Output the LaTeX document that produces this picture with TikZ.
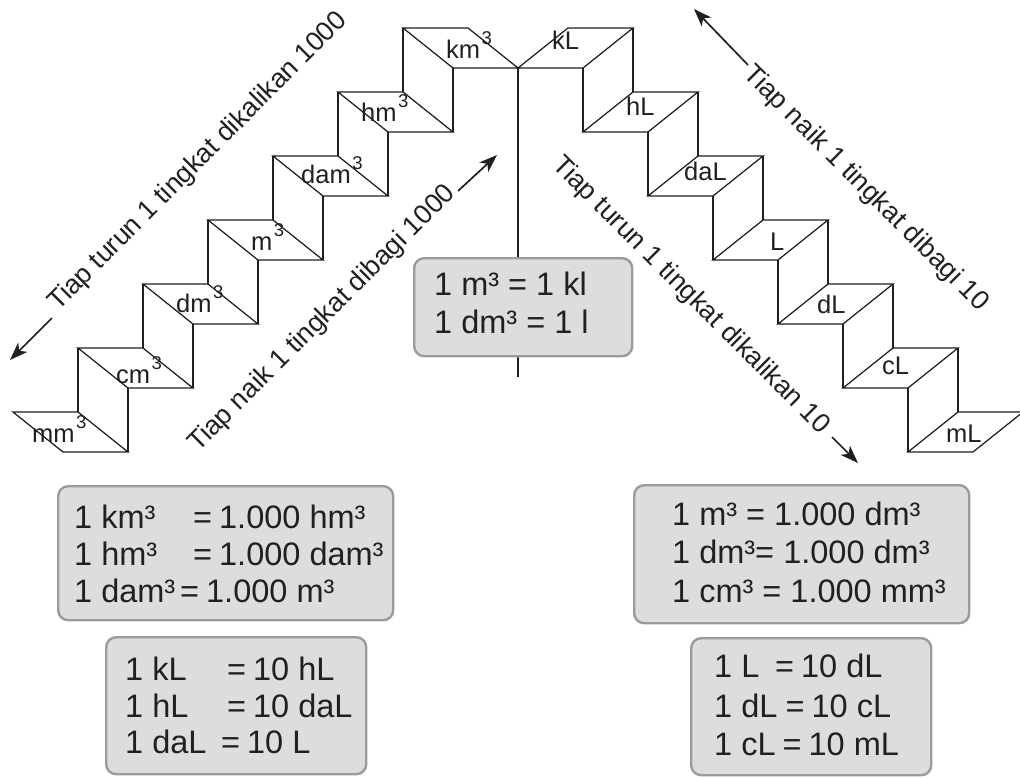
\documentclass[tikz,border=0pt]{standalone}
\usepackage{fontspec}
\setmainfont{Liberation Sans}
\usetikzlibrary{arrows.meta,calc}
\definecolor{ink}{HTML}{231F20}
\definecolor{boxfill}{HTML}{DCDDDF}
\definecolor{boxline}{HTML}{9B9B9B}
\tikzset{
  stair/.style={line width=1.25pt, draw=ink, line join=miter},
  lbl/.style={anchor=base west, inner sep=0pt, font=\fontsize{25.5}{25.5}\selectfont, text=ink},
  slant/.style={anchor=base west, inner sep=0pt, font=\fontsize{27}{27}\selectfont, text=ink},
  arr/.style={line width=1.7pt, draw=ink, -{Stealth[length=18pt,width=13pt,inset=5pt]}},
  infobox/.style={draw=boxline, fill=boxfill, line width=2.4pt, rounded corners=10pt, anchor=north west, inner sep=0pt},
  boxtxt/.style={anchor=base west, inner sep=0pt, font=\fontsize{32.5}{32.5}\selectfont, text=ink},
}
\newcommand{\cubelbl}[1]{#1\kern1.5pt\raisebox{14pt}{\fontsize{18.5}{18.5}\selectfont 3}}
\newcommand{\eqline}[3]{\makebox[#1pt][l]{#2}=\hspace{7pt}#3}
\begin{document}
\begin{tikzpicture}[x=1pt,y=-1pt]
\useasboundingbox (0,0) rectangle (1020,777);
% centre line
\coordinate (ctop) at (518,68);
\coordinate (cbot) at (518,377);
\draw[stair] (ctop) -- (cbot);
% left staircase
\foreach \k in {0,...,6}{
  \coordinate (L\k) at ({13+65*\k},{412-64*\k});
  \draw[stair] (L\k) -- ++(65,0) -- ++(50,40) -- ++(-65,0) -- cycle;
}
\foreach \k in {1,...,6}{
  \draw[stair] (L\k) -- ++(0,64);
  \draw[stair] ($(L\k)+(50,40)$) -- ++(0,64);
}
% right staircase
\foreach \k in {0,...,6}{
  \coordinate (R\k) at ({1023-65*\k},{412-64*\k});
  \draw[stair] (R\k) -- ++(-65,0) -- ++(-50,40) -- ++(65,0) -- cycle;
}
\foreach \k in {1,...,6}{
  \draw[stair] (R\k) -- ++(0,64);
  \draw[stair] ($(R\k)+(-50,40)$) -- ++(0,64);
}
% step labels
\node[lbl] (km) at (446,58) {\cubelbl{km}};
\node[lbl] (hm) at (361,121) {\cubelbl{hm}};
\node[lbl] (dam) at (301,183) {\cubelbl{dam}};
\node[lbl] (m) at (251,250) {\cubelbl{m}};
\node[lbl] (dm) at (176,312) {\cubelbl{dm}};
\node[lbl] (cm) at (116,383) {\cubelbl{cm}};
\node[lbl] (mm) at (32,442) {\cubelbl{mm}};
\node[lbl] (kL) at (552,49) {kL};
\node[lbl] (hL) at (626,115) {hL};
\node[lbl] (daL) at (684,180) {daL};
\node[lbl] (Lt) at (770,250) {L};
\node[lbl] (dL) at (817,313) {dL};
\node[lbl] (cL) at (882,374) {cL};
\node[lbl] (mL) at (946,442) {mL};
% slanted texts and arrows
\node[slant, rotate=45] (t1) at (58,312) {Tiap turun 1 tingkat dikalikan 1000};
\coordinate (a1s) at (52,318); \coordinate (a1e) at (10,360);
\draw[arr] (a1s) -- (a1e);
\node[slant, rotate=45] (t2) at (198,453) {Tiap naik 1 tingkat dibagi 1000};
\coordinate (a2s) at (458,191); \coordinate (a2e) at (497,155);
\draw[arr] (a2s) -- (a2e);
\node[slant, rotate=-45] (t3) at (551,166) {Tiap turun 1 tingkat dikalikan 10};
\coordinate (a3s) at (832,437); \coordinate (a3e) at (858,463);
\draw[arr] (a3s) -- (a3e);
\node[slant, rotate=-45] (t4) at (742,75) {Tiap naik 1 tingkat dibagi 10};
\coordinate (a4s) at (748,65); \coordinate (a4e) at (694,9);
\draw[arr] (a4s) -- (a4e);
% info boxes
\node[infobox, minimum width=218pt, minimum height=98pt] (boxC) at (413,257) {};
\node[boxtxt] (c1) at (434,295) {1 m³ = 1 kl};
\node[boxtxt] (c2) at (434,333) {1 dm³ = 1 l};
\node[infobox, minimum width=335pt, minimum height=134pt] (boxA) at (57,485) {};
\node[boxtxt] (a1) at (74,528) {\eqline{119}{1 km³}{1.000 hm³}};
\node[boxtxt] (a2) at (74,565) {\eqline{119}{1 hm³}{1.000 dam³}};
\node[boxtxt] (a3) at (74,602) {\eqline{106}{1 dam³}{1.000 m³}};
\node[infobox, minimum width=260pt, minimum height=137pt] (boxB) at (105,636) {};
\node[boxtxt] (b1) at (125,680) {\eqline{102}{1 kL}{10 hL}};
\node[boxtxt] (b2) at (125,717) {\eqline{102}{1 hL}{10 daL}};
\node[boxtxt] (b3) at (125,753) {\eqline{96}{1 daL}{10 L}};
\node[infobox, minimum width=335pt, minimum height=138pt] (boxD) at (633,484) {};
\node[boxtxt] (d1) at (672,525) {1 m³ = 1.000 dm³};
\node[boxtxt] (d2) at (672,563) {1 dm³= 1.000 dm³};
\node[boxtxt] (d3) at (672,602) {1 cm³ = 1.000 mm³};
\node[infobox, minimum width=240pt, minimum height=137pt] (boxE) at (690,637) {};
\node[boxtxt] (e1) at (714,677) {\eqline{61}{1 L}{10 dL}};
\node[boxtxt] (e2) at (714,717) {\eqline{71.5}{1 dL}{10 cL}};
\node[boxtxt] (e3) at (714,755) {\eqline{68.5}{1 cL}{10 mL}};
\end{tikzpicture}
\end{document}
